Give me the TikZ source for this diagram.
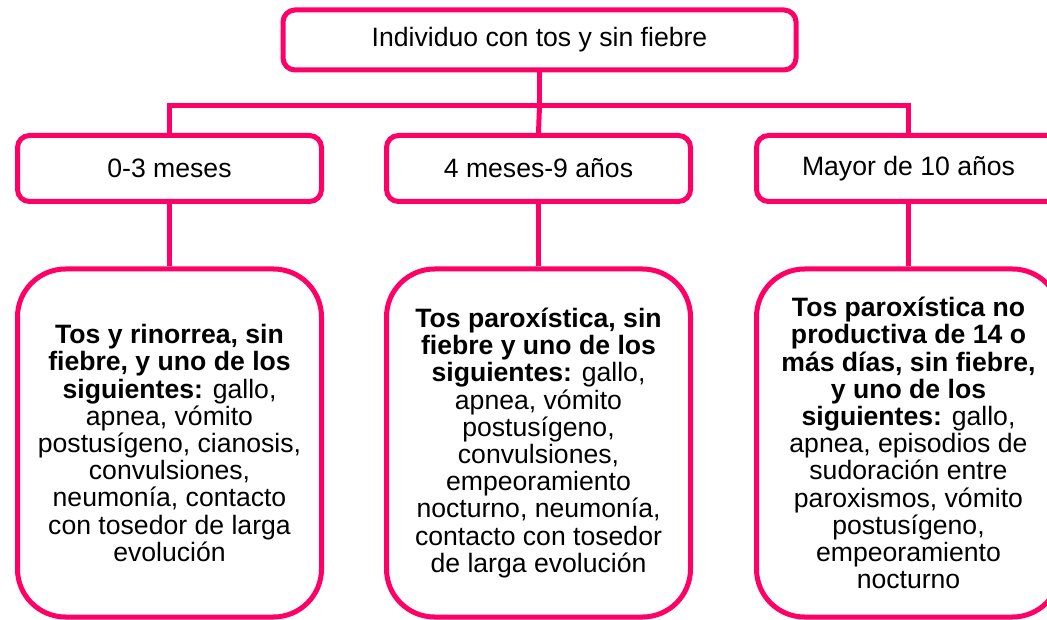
\documentclass[tikz,border=0pt]{standalone}
\usepackage{fontspec}
\setmainfont{Liberation Sans}
\definecolor{rosa}{HTML}{FF0066}
\begin{document}
\begin{tikzpicture}[x=1pt, y=-1pt, line width=5pt,
  box/.style={draw=rosa, rounded corners=12pt, minimum width=304pt, minimum height=66pt, font=\fontsize{26.6}{27.2}\selectfont},
  bigbox/.style={draw=rosa, rounded corners=48pt, minimum width=304pt, minimum height=348pt, align=center, font=\fontsize{26.6}{27.2}\selectfont}]
  \useasboundingbox (0,0) rectangle (1047,620);
  % top
  \node[box, minimum width=513pt, minimum height=60pt] (ind) at (539.5,40) {Individuo con tos y sin fiebre};
  % ages
  \node[box] (edad1) at (169.5,168.5) {0-3 meses};
  \node[box] (edad2) at (538.5,168.5) {4 meses-9 años};
  \node[box] (edad3) at (908.5,168.5) {Mayor de 10 años};
  % symptoms
  \node[bigbox] (sint1) at (169.5,443) {\textbf{Tos y rinorrea, sin}\\ \textbf{fiebre, y uno de los}\\ \textbf{siguientes:} gallo,\\ apnea, vómito\\ postusígeno, cianosis,\\ convulsiones,\\ neumonía, contacto\\ con tosedor de larga\\ evolución};
  \node[bigbox] (sint2) at (538.5,443) {\textbf{Tos paroxística, sin}\\ \textbf{fiebre y uno de los}\\ \textbf{siguientes:} gallo,\\ apnea, vómito\\ postusígeno,\\ convulsiones,\\ empeoramiento\\ nocturno, neumonía,\\ contacto con tosedor\\ de larga evolución};
  \node[bigbox] (sint3) at (908.5,443) {\textbf{Tos paroxística no}\\ \textbf{productiva de 14 o}\\ \textbf{más días, sin fiebre,}\\ \textbf{y uno de los}\\ \textbf{siguientes:} gallo,\\ apnea, episodios de\\ sudoración entre\\ paroxismos, vómito\\ postusígeno,\\ empeoramiento\\ nocturno};

  % connectors
  \draw[rosa] (ind.south) -- ++(0,33.5) coordinate (split);
  \draw[rosa] (edad1.north) |- (split) -| (edad3.north);
  \draw[rosa] (split) -- (edad2.north);
  \draw[rosa] (edad1.south) -- (sint1.north);
  \draw[rosa] (edad2.south) -- (sint2.north);
  \draw[rosa] (edad3.south) -- (sint3.north);

\end{tikzpicture}
\end{document}
